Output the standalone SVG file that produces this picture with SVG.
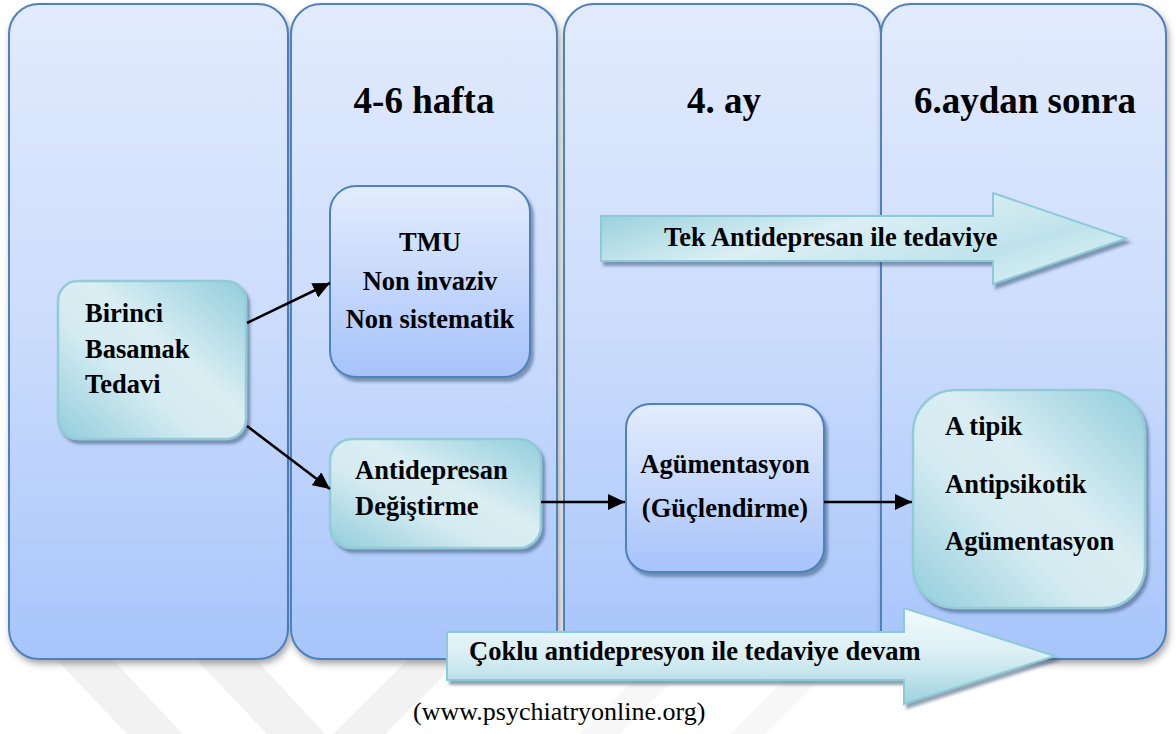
<svg xmlns="http://www.w3.org/2000/svg" width="1176" height="734" viewBox="0 0 1176 734">
<style>
.col{fill:url(#gCol);stroke:#4f81bd;stroke-width:2;filter:url(#shCol)}
.blue{fill:url(#gBlue);stroke:#4f81bd;stroke-width:2;filter:url(#sh)}
.teal{fill:url(#gTeal);stroke:#93cad8;stroke-width:2.5;filter:url(#sh)}
.big{fill:url(#gArrTop);stroke:#8ccad9;stroke-width:2;filter:url(#sh)}
.big2{fill:url(#gArrBot);stroke:#8ccad9;stroke-width:2;filter:url(#sh)}
.h{font-family:"Liberation Serif","Times New Roman",serif;font-weight:bold;font-size:37px;fill:#000;text-anchor:middle}
.t{font-family:"Liberation Serif","Times New Roman",serif;font-weight:bold;font-size:26.5px;fill:#000}
.c{text-anchor:middle}
.cite{font-family:"Liberation Serif","Times New Roman",serif;font-size:26px;fill:#000}
.conn{stroke:#000;stroke-width:2.5;fill:none;marker-end:url(#ah)}
.wm{fill:#f2f2f2}
.wm2{fill:#f7f7f7}
</style>
<defs>
<linearGradient id="gCol" x1="0" y1="0" x2="0" y2="1">
<stop offset="0" stop-color="#e2ebfd"/>
<stop offset="0.5" stop-color="#cbdcfc"/>
<stop offset="1" stop-color="#a7c5fb"/>
</linearGradient>
<linearGradient id="gBlue" x1="0" y1="0" x2="0" y2="1">
<stop offset="0" stop-color="#e3ecfd"/>
<stop offset="0.5" stop-color="#c6d8fc"/>
<stop offset="1" stop-color="#a6c3fa"/>
</linearGradient>
<linearGradient id="gTeal" x1="1" y1="0" x2="0" y2="1">
<stop offset="0" stop-color="#92cddc"/>
<stop offset="0.42" stop-color="#daeef3"/>
<stop offset="0.62" stop-color="#d4ebf1"/>
<stop offset="1" stop-color="#92cddc"/>
</linearGradient>
<linearGradient id="gArrTop" x1="0" y1="0.2" x2="1" y2="0.8">
<stop offset="0" stop-color="#96cfdc"/>
<stop offset="0.4" stop-color="#dbeff4"/>
<stop offset="0.75" stop-color="#bfe3eb"/>
<stop offset="1" stop-color="#dcf0f5"/>
</linearGradient>
<linearGradient id="gArrBot" x1="0" y1="0" x2="0" y2="1">
<stop offset="0" stop-color="#f3fafc"/>
<stop offset="0.5" stop-color="#d9eef3"/>
<stop offset="1" stop-color="#9dd2de"/>
</linearGradient>
<filter id="sh" x="-10%" y="-10%" width="125%" height="130%">
<feDropShadow dx="3" dy="4" stdDeviation="1.5" flood-color="#3b5577" flood-opacity="0.55"/>
</filter>
<filter id="shCol" x="-10%" y="-5%" width="125%" height="115%">
<feDropShadow dx="2" dy="4" stdDeviation="3" flood-color="#404040" flood-opacity="0.45"/>
</filter>
<marker id="ah" markerUnits="userSpaceOnUse" markerWidth="18" markerHeight="16" refX="17" refY="8" orient="auto">
<path d="M0,0 L17,8 L0,16 Z" fill="#000"/>
</marker>
</defs>
<rect width="1176" height="734" fill="#ffffff"/>
<g id="watermark">
<polygon class="wm" points="38,640 94,640 183,734 127,734"/>
<polygon class="wm" points="178,640 238,640 325,734 267,734"/>
<polygon class="wm" points="333,734 385,734 480,640 428,640"/>
<polygon class="wm2" points="580,734 620,734 714,640 674,640"/>
<polygon class="wm2" points="730,734 765,734 859,640 824,640"/>
</g>
<g id="columns">
<rect id="col1" class="col" x="9" y="4" width="279" height="655" rx="30"/>
<rect id="col2" class="col" x="291" y="4" width="266" height="655" rx="30"/>
<rect id="col3" class="col" x="564" y="4" width="317" height="655" rx="30"/>
<rect id="col4" class="col" x="881" y="4" width="285" height="655" rx="30"/>
<text class="h" x="424" y="113">4-6 hafta</text>
<text class="h" x="724" y="113">4. ay</text>
<text class="h" x="1025" y="113">6.aydan sonra</text>
</g>
<g id="arrow-tek">
<path class="big" d="M601,216 H993 V193 L1126,238.5 L993,284 V261 H601 Z"/>
<text class="t" x="664" y="246">Tek Antidepresan ile tedaviye</text>
</g>
<g id="arrow-coklu">
<path class="big2" d="M447,632 H904 V608 L1055,656 L904,704 V680 H447 Z"/>
<text class="t" x="469" y="660">Çoklu antidepresyon ile tedaviye devam</text>
</g>
<g id="node-birinci">
<rect class="teal" x="58" y="281" width="188" height="158" rx="20"/>
<text class="t" x="85" y="322">Birinci</text>
<text class="t" x="85" y="358">Basamak</text>
<text class="t" x="85" y="393">Tedavi</text>
</g>
<g id="node-tmu">
<rect class="blue" x="330" y="186" width="200" height="191" rx="26"/>
<text class="t c" x="430" y="251">TMU</text>
<text class="t c" x="430" y="290">Non invaziv</text>
<text class="t c" x="430" y="328">Non sistematik</text>
</g>
<g id="node-antidepresan">
<rect class="teal" x="330" y="439" width="211" height="109" rx="22"/>
<text class="t" x="355" y="479">Antidepresan</text>
<text class="t" x="355" y="515">Değiştirme</text>
</g>
<g id="node-agumentasyon">
<rect class="blue" x="626" y="404" width="198" height="168" rx="24"/>
<text class="t c" x="725" y="473">Agümentasyon</text>
<text class="t c" x="725" y="517">(Güçlendirme)</text>
</g>
<g id="node-atipik">
<rect class="teal" x="913" y="390" width="232" height="218" rx="42"/>
<text class="t" x="945" y="435">A tipik</text>
<text class="t" x="945" y="493">Antipsikotik</text>
<text class="t" x="945" y="550">Agümentasyon</text>
</g>
<g id="connectors">
<line class="conn" x1="247" y1="323" x2="330" y2="283"/>
<line class="conn" x1="247" y1="426" x2="330" y2="489"/>
<line class="conn" x1="541" y1="502" x2="625" y2="502"/>
<line class="conn" x1="824" y1="502" x2="912" y2="502"/>
</g>
<text class="cite" x="413" y="720">(www.psychiatryonline.org)</text>
</svg>
